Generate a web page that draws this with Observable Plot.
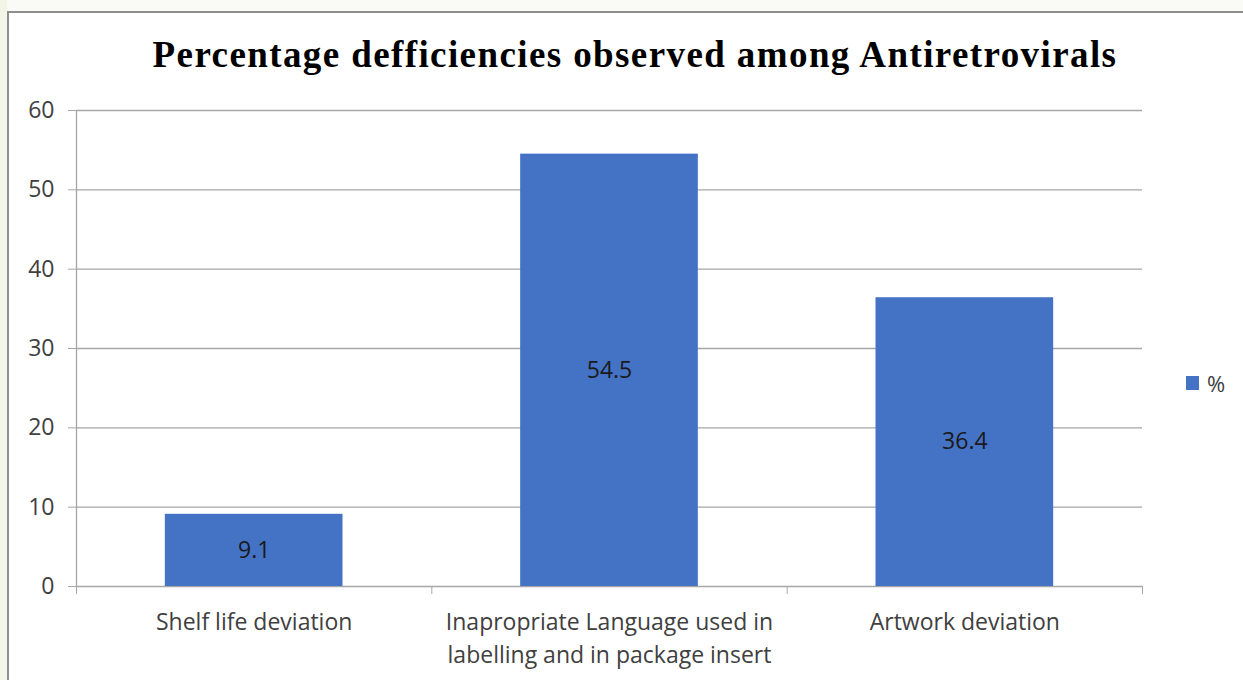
<!DOCTYPE html>
<html>
<head>
<meta charset="utf-8">
<script src="https://cdn.jsdelivr.net/npm/d3@7"></script>
<script src="https://cdn.jsdelivr.net/npm/@observablehq/plot@0.6"></script>
<style>
  html, body { margin: 0; padding: 0; }
  body {
    width: 1243px; height: 680px; overflow: hidden; position: relative;
    background: #fafaf6;
  }
  #strip { position: absolute; left: 0; top: 0; width: 7px; height: 680px; background: #f3f5e7; }
  #frame {
    position: absolute; left: 7px; top: 11px; width: 1250px; height: 690px;
    background: #ffffff; border-left: 2px solid #8e8e8e; border-top: 2px solid #8e8e8e;
    box-sizing: border-box;
  }
  #title {
    position: absolute; left: 0; top: 0; width: 1270px; height: 80px;
    text-align: center; line-height: 110px; letter-spacing: 1.4px;
    font-family: "Liberation Serif", serif; font-weight: bold; font-size: 37px; color: #000;
  }
  #chart { position: absolute; left: 0; top: 80px; }
  #legend {
    position: absolute; left: 1186px; top: 368px;
    font-family: "Open Sans", sans-serif; font-size: 22px; color: #404040;
    display: flex; align-items: center;
  }
  #legend .sw { width: 13px; height: 14px; background: #4472c4; margin-right: 8px; }
</style>
</head>
<body>
<div id="strip"></div>
<div id="frame"></div>
<div id="title"></div>
<div id="chart"></div>
<div id="legend"><span class="sw"></span><span id="legend-label"></span></div>
<script>
// Deficiency categories and the share (%) observed for each
const titleText = "Percentage defficiencies observed among Antiretrovirals";
const categories = [
  "Shelf life deviation",
  "Inapropriate Language used in\nlabelling and in package insert",
  "Artwork deviation"
];
const percents = [9.1, 54.5, 36.4];
const yTicks = [0, 10, 20, 30, 40, 50, 60];
const seriesName = "%";

const barColor = "#4472c4";
const gridColor = "#a6a6a6";
const textColor = "#404040";

const rows = categories.map((c, i) => ({ category: c, index: i, value: percents[i] }));
const bounds = d3.range(categories.length + 1);

document.getElementById("title").textContent = titleText;
document.getElementById("legend-label").textContent = seriesName;

const chart = Plot.plot({
  width: 1243,
  height: 600,
  marginLeft: 76,
  marginRight: 101,
  marginTop: 30,
  marginBottom: 94,
  style: { fontFamily: "'Open Sans', sans-serif", background: "transparent", color: textColor, overflow: "visible" },
  x: { type: "linear", domain: [0, categories.length], axis: null },
  y: { domain: [0, 60], axis: null },
  marks: [
    Plot.ruleY(yTicks, { stroke: gridColor, strokeWidth: 1.3 }),
    Plot.ruleX([0], { stroke: gridColor, strokeWidth: 1.3 }),
    Plot.axisY(yTicks, {
      tickSize: 8, tickPadding: 14, stroke: gridColor, fill: textColor, fontSize: 23,
      label: null, tickFormat: d => String(d)
    }),
    Plot.axisX(bounds, {
      tickSize: 8, stroke: gridColor, tickFormat: () => "", label: null
    }),
    Plot.rectY(rows, {
      x1: d => d.index + 0.25, x2: d => d.index + 0.75, y1: 0, y2: "value", fill: barColor
    }),
    Plot.text(rows, {
      x: d => d.index + 0.5, y: d => d.value / 2, text: d => d.value.toFixed(1),
      fontSize: 23, fill: "#1a1a1a"
    }),
    Plot.text(rows, {
      x: d => d.index + 0.5, y: 0, text: "category", lineAnchor: "top", dy: 20,
      fontSize: 23, lineHeight: 1.43, fill: textColor
    })
  ]
});
document.getElementById("chart").appendChild(chart);
</script>
</body>
</html>
